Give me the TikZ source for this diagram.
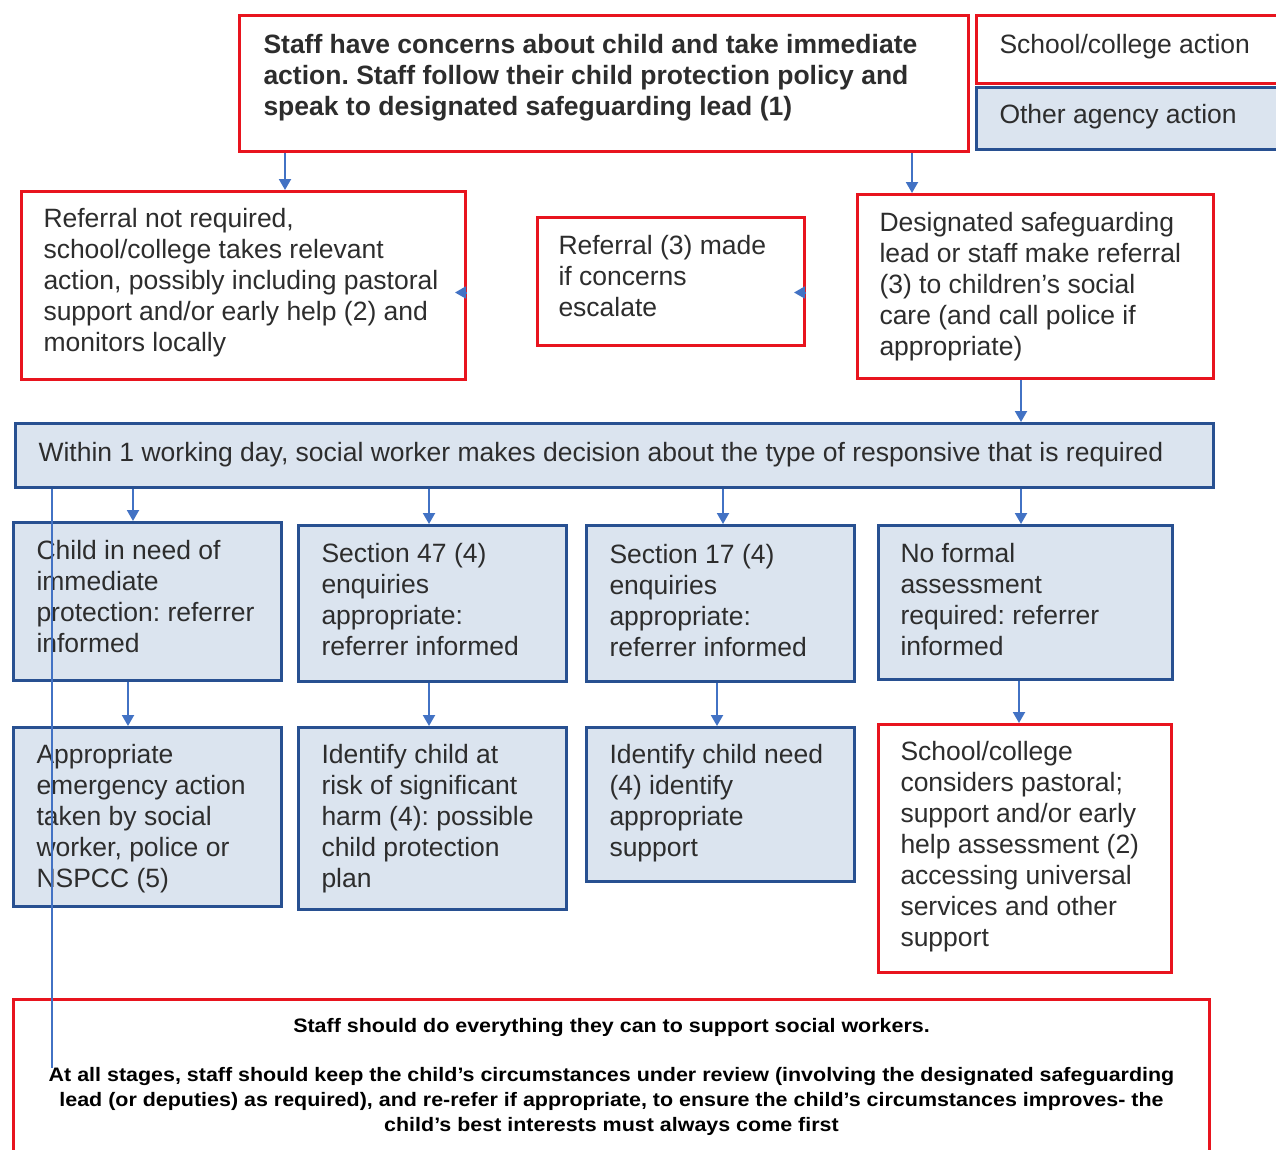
\documentclass[tikz,border=0pt]{standalone}
\usepackage{fontspec}
\setmainfont{Liberation Sans}
\usetikzlibrary{arrows.meta}
\definecolor{redb}{RGB}{232,20,30}
\definecolor{blueb}{RGB}{40,80,145}
\definecolor{fillb}{RGB}{219,228,239}
\definecolor{arrc}{RGB}{66,114,196}
\definecolor{txt}{RGB}{45,45,45}
% #1 name, #2 style, #3 x1, #4 y1, #5 x2, #6 y2, #7 pad x, #8 first baseline, #9 text
\newcommand\bx[9]{%
  \node[#2, anchor=north west, inner xsep=#7pt, inner ysep=0pt] (#1) at (#3,#4)
  {\parbox[c][\dimexpr #6pt-#4pt\relax][t]{\dimexpr #5pt-#3pt-#7pt-#7pt\relax}{\frenchspacing\raggedright\rule{0pt}{#8pt}#9}};}
\begin{document}
\begin{tikzpicture}[x=1pt,y=-1pt,
  rbox/.style={draw=redb, line width=3pt, fill=white, text=txt, font=\fontsize{26.5}{31}\selectfont},
  bbox/.style={draw=blueb, line width=3pt, fill=fillb, text=txt, font=\fontsize{26.5}{31}\selectfont},
  arr/.style={draw=arrc, line width=2pt, -{Triangle[width=12pt,length=11pt]}, fill=arrc},
  vline/.style={draw=arrc, line width=2pt}
]
\useasboundingbox (0,0) rectangle (1276,1149);
\fill[white] (0,0) rectangle (1276,1149);

\bx{top}{rbox, font=\fontsize{26.5}{31}\selectfont\bfseries}{238}{14}{967}{150}{24}{38}{Staff have concerns about child and take immediate\\action. Staff follow their child protection policy and\\speak to designated safeguarding lead (1)}
\bx{leg1}{rbox}{975}{14}{1292}{82}{23}{38}{School/college action}
\bx{leg2}{bbox}{975}{86}{1292}{148}{23}{36}{Other agency action}

\bx{nref}{rbox}{20}{190}{464}{378}{22}{36}{Referral not required,\\school/college takes relevant\\action, possibly including pastoral\\support and/or early help (2) and\\monitors locally}
\bx{esc}{rbox}{536}{216}{803}{344}{21}{37}{Referral (3) made\\if concerns\\escalate}
\bx{dsl}{rbox}{856}{193}{1212}{377}{22}{37}{Designated safeguarding\\lead or staff make referral\\(3) to children's social\\care (and call police if\\appropriate)}

\bx{bar}{bbox}{14}{422}{1212}{486}{23}{38}{Within 1 working day, social worker makes decision about the type of responsive that is required}

\bx{ca}{bbox}{12}{521}{280}{679}{23}{37}{Child in need of\\immediate\\protection: referrer\\informed}
\bx{cb}{bbox}{297}{524}{565}{680}{23}{37}{Section 47 (4)\\enquiries\\appropriate:\\referrer informed}
\bx{cc}{bbox}{585}{524}{853}{680}{23}{38}{Section 17 (4)\\enquiries\\appropriate:\\referrer informed}
\bx{cd}{bbox}{877}{524}{1171}{678}{22}{37}{No formal\\assessment\\required: referrer\\informed}

\bx{da}{bbox}{12}{726}{280}{905}{23}{36}{Appropriate\\emergency action\\taken by social\\worker, police or\\NSPCC (5)}
\bx{db}{bbox}{297}{726}{565}{908}{23}{36}{Identify child at\\risk of significant\\harm (4): possible\\child protection\\plan}
\bx{dc}{bbox}{585}{726}{853}{880}{23}{36}{Identify child need\\(4) identify\\appropriate\\support}
\bx{dd}{rbox}{877}{723}{1170}{971}{22}{36}{School/college\\considers pastoral;\\support and/or early\\help assessment (2)\\accessing universal\\services and other\\support}

\bx{bot}{rbox, font=\fontsize{19.5}{25}\selectfont\bfseries\addfontfeature{FakeStretch=1.1}, text=black}{12}{998}{1208}{1175}{12}{33}{\centering Staff should do everything they can to support social workers.\\[24pt]At all stages, staff should keep the child's circumstances under review (involving the designated safeguarding\\lead (or deputies) as required), and re-refer if appropriate, to ensure the child's circumstances improves- the\\child's best interests must always come first}

% connectors
\draw[arr] (285,0 |- top.south) -- (285,0 |- nref.north);
\draw[arr] (912,0 |- top.south) -- (912,0 |- dsl.north);
\draw[arr] (1021,0 |- dsl.south) -- (1021,0 |- bar.north);
\draw[arr] (133,0 |- bar.south) -- (133,0 |- ca.north);
\draw[arr] (429,0 |- bar.south) -- (429,0 |- cb.north);
\draw[arr] (723,0 |- bar.south) -- (723,0 |- cc.north);
\draw[arr] (1021,0 |- bar.south) -- (1021,0 |- cd.north);
\draw[arr] (128,0 |- ca.south) -- (128,0 |- da.north);
\draw[arr] (429,0 |- cb.south) -- (429,0 |- db.north);
\draw[arr] (717,0 |- cc.south) -- (717,0 |- dc.north);
\draw[arr] (1019,0 |- cd.south) -- (1019,0 |- dd.north);
% small arrow heads at the right edges
\draw[arr] ([yshift=-7pt]nref.east) -- ++(-12,0);
\draw[arr] ([yshift=-11pt]esc.east) -- ++(-12,0);
% long vertical line
\coordinate (vend) at (52,1068);
\draw[vline] (52,0 |- bar.south) -- (vend);
\end{tikzpicture}
\end{document}
